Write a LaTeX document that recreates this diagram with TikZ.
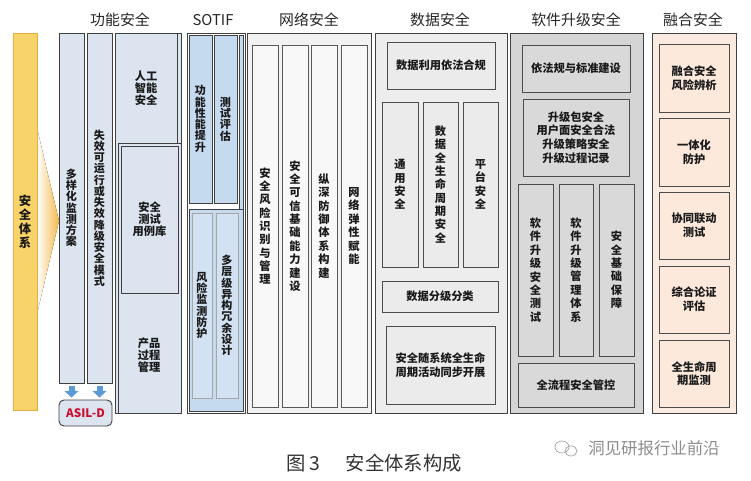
\documentclass[tikz,border=0pt]{standalone}
\usepackage{fontspec}
\setmainfont{Noto Sans CJK SC}
\usetikzlibrary{arrows.meta}
\XeTeXlinebreaklocale "zh"
\XeTeXlinebreakskip=0pt plus 1pt
\definecolor{sysyellow}{HTML}{F8D36A}
\definecolor{sysborder}{HTML}{E0B040}
\definecolor{glow}{HTML}{F5B94A}
\definecolor{fsblue}{HTML}{DCE4F0}
\definecolor{sotblue}{HTML}{C5D9EF}
\definecolor{sotin}{HTML}{D3E2F3}
\definecolor{netfill}{HTML}{F2F2F2}
\definecolor{netcol}{HTML}{F8F8F8}
\definecolor{datafill}{HTML}{EDEDED}
\definecolor{datain}{HTML}{EBEBEB}
\definecolor{swfill}{HTML}{D5D5D5}
\definecolor{swin}{HTML}{D9D9D9}
\definecolor{fufill}{HTML}{FBEADF}
\definecolor{fuin}{HTML}{FCE9DC}
\definecolor{asilred}{HTML}{C8102E}
\definecolor{arrowblue}{HTML}{5B9BD5}
\definecolor{txt}{HTML}{1A1A1A}
\tikzset{
	panel/.style={draw=black!75,line width=0.8pt,inner sep=0pt,outer sep=0pt,anchor=center,text=txt},
	sysbar/.style={panel,draw=sysborder,fill=sysyellow,font=\bfseries\fontsize{10.5}{11.9}\selectfont,text width=1.05em},
	fsbox/.style={panel,fill=fsblue},
	sotbox/.style={panel,fill=sotblue},
	sotinbox/.style={panel,draw=black!35,line width=0.6pt,fill=sotin},
	netbox/.style={panel,fill=netfill},
	netcolbox/.style={panel,draw=black!65,fill=netcol},
	databox/.style={panel,fill=datafill},
	datainbox/.style={panel,draw=black!70,fill=datain},
	swbox/.style={panel,fill=swfill},
	swinbox/.style={panel,draw=black!70,fill=swin},
	fubox/.style={panel,fill=fufill},
	fuinbox/.style={panel,draw=black!70,fill=fuin},
	vtxt/.style={text width=1.05em,align=center,font=\bfseries\fontsize{9.4}{9.6}\selectfont},
	vtxtw/.style={text width=1.05em,align=center,font=\bfseries\fontsize{9.6}{11.4}\selectfont},
	htxt/.style={align=center,text=txt,font=\bfseries\fontsize{9.6}{11.7}\selectfont},
	fstxt/.style={align=center,text=txt,font=\bfseries\fontsize{9.6}{10.4}\selectfont},
	grptitle/.style={font=\fontsize{12.7}{14}\selectfont,text=black!85},
	asil/.style={draw=black!75,line width=0.8pt,fill=fsblue,rounded corners=0.15cm,
		minimum width=1.59cm,minimum height=0.78cm,inner sep=0pt,
		text=asilred,font=\bfseries\fontsize{10}{12}\selectfont},
	downarr/.style={arrowblue,line width=0.18cm,-{Triangle[width=0.42cm,length=0.2cm]},
		shorten <=0.09cm,shorten >=0.06cm},
}
% box from (x1,y1) to (x2,y2) in pixels of the layout
\newcommand\panel[7]{\node[#2,minimum width={(#5-#3)*0.03cm},minimum height={(#6-#4)*0.03cm}] (#1) at ({(#3+#5)/2},{(#4+#6)/2}) {#7};}

\begin{document}
\begin{tikzpicture}[x=0.03cm,y=-0.03cm]
	\useasboundingbox (0,0) rectangle (751,481);
	
	% Safety system bar
	\fill[left color=white,right color=glow] (37,128) -- (59,221) -- (37,314) -- cycle;
	\panel{sys}{sysbar,align=center}{13}{33}{37}{410}{安全体系}
	
	% Functional safety
	\node[grptitle] (tfs) at (120,20) {功能安全};
	\panel{m1}{fsbox,vtxt}{59}{33}{84}{383}{多样化监测方案}
	\panel{m2}{fsbox,vtxt}{87}{33}{112}{383}{失效可运行或失效降级安全模式}
	\panel{aiback}{fsbox}{118}{33}{181}{413}{}
	\panel{ai}{fsbox}{115}{33}{177}{413}{}
	\panel{pp}{fsbox}{118}{143}{181}{413}{}
	\panel{tc}{fsbox,fstxt}{121}{146}{178}{293}{安全\\测试\\用例库}
	\node[fstxt] (aitext) at (146,88) {人工\\智能\\安全};
	\node[fstxt] (pptext) at (149,355) {产品\\过程\\管理};
	
	% ASIL level
	\node[asil] (asil) at (85.5,413) {ASIL-D};
	\draw[downarr] (m1.south) -- (m1.south |- asil.north);
	\draw[downarr] (m2.south) -- (m2.south |- asil.north);
	
	% SOTIF
	\node[grptitle] (tsotif) at (213,20) {SOTIF};
	\panel{sotif}{panel,fill=white}{187}{33}{245}{413}{}
	\panel{s1}{sotbox,vtxt}{189}{35}{212}{203}{功能性能提升}
	\panel{s2}{sotbox,vtxt}{214}{35}{237}{203}{测试评估}
	\panel{strip}{sotbox}{239}{35}{243}{209}{}
	\panel{slow}{sotbox}{189}{209}{243}{411}{}
	\panel{s3}{sotinbox,vtxt}{192}{213}{212}{398}{风险监测防护}
	\panel{s4}{sotinbox,vtxt}{216}{213}{238}{398}{多层级异构冗余设计}
	
	% Network security
	\node[grptitle] (tnet) at (309,20) {网络安全};
	\panel{net}{netbox}{247}{33}{371}{413}{}
	\panel{n1}{netcolbox,vtxtw}{252}{45}{278}{407}{安全风险识别与管理}
	\panel{n2}{netcolbox,vtxtw}{282}{45}{308}{407}{安全可信基础能力建设}
	\panel{n3}{netcolbox,vtxtw}{311}{45}{337}{407}{纵深防御体系构建}
	\panel{n4}{netcolbox,vtxtw}{341}{45}{367}{407}{网络弹性赋能}
	
	% Data security
	\node[grptitle] (tdata) at (440,20) {数据安全};
	\panel{data}{databox}{375}{33}{507}{413}{}
	\panel{d0}{datainbox,htxt}{387}{42}{495}{89}{数据利用依法合规}
	\panel{d1}{datainbox,vtxtw}{382}{102}{418}{267}{通用安全}
	\panel{d2}{datainbox,vtxtw}{423}{102}{458}{267}{数据全生命周期安全}
	\panel{d3}{datainbox,vtxtw}{463}{102}{498}{267}{平台安全}
	\panel{d4}{datainbox,htxt}{382}{281}{498}{312}{数据分级分类}
	\panel{d5}{datainbox,htxt}{386}{326}{495}{404}{安全随系统全生命\\周期活动同步开展}
	
	% Software upgrade security
	\node[grptitle] (tsw) at (576,20) {软件升级安全};
	\panel{sw}{swbox}{510}{33}{643}{413}{}
	\panel{u0}{swinbox,htxt}{522}{45}{630}{92}{依法规与标准建设}
	\panel{u1}{swinbox,htxt}{523}{99}{629}{176}{升级包安全\\用户面安全合法\\升级策略安全\\升级过程记录}
	\panel{u2}{swinbox,vtxtw}{518}{184}{553}{356}{软件升级安全测试}
	\panel{u3}{swinbox,vtxtw}{559}{184}{593}{356}{软件升级管理体系}
	\panel{u4}{swinbox,vtxtw}{599}{184}{634}{356}{安全基础保障}
	\panel{u5}{swinbox,htxt}{518}{363}{634}{407}{全流程安全管控}
	
	% Fusion security
	\node[grptitle] (tfu) at (693,20) {融合安全};
	\panel{fu}{fubox}{652}{33}{736}{413}{}
	\panel{f1}{fuinbox,htxt}{659}{44}{729}{112}{融合安全\\风险辨析}
	\panel{f2}{fuinbox,htxt}{659}{118}{729}{186}{一体化\\防护}
	\panel{f3}{fuinbox,htxt}{659}{192}{729}{259}{协同联动\\测试}
	\panel{f4}{fuinbox,htxt}{659}{266}{729}{333}{综合论证\\评估}
	\panel{f5}{fuinbox,htxt}{659}{340}{729}{407}{全生命周\\期监测}
	
	% Caption and mark
	\node[font=\fontsize{16.5}{18}\selectfont,text=black!80] (caption) at (374,463) {图 3\hspace{1.3em}安全体系构成};
	\draw[black!35,line width=0.6pt] (562,447) ellipse [x radius=7,y radius=6];
	\draw[black!35,line width=0.6pt] (571,451) ellipse [x radius=6,y radius=5];
	\node[font=\fontsize{14}{16}\selectfont,text=black!45] (mark) at (654,448) {洞见研报行业前沿};
\end{tikzpicture}
\end{document}
